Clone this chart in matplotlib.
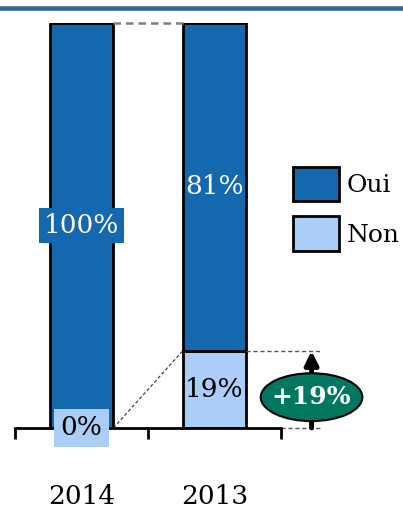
import matplotlib.pyplot as plt
from matplotlib.patches import Ellipse
from matplotlib.lines import Line2D
import numpy as np

annees = ["2014", "2013"]
oui = [100, 81]
non = [0, 19]
evolution = "+19%"

bleu_fonce = "#1468AE"
bleu_clair = "#AACEF8"
vert = "#00775F"

plt.rcParams["font.family"] = ["DejaVu Serif"]

fig = plt.figure(figsize=(4.03, 5.08), dpi=100)
ax = fig.add_axes([0.0372, 0.1575, 0.66, 0.798])

x = np.arange(len(annees))
largeur = 0.48
b_non = ax.bar(x, non, largeur, color=bleu_clair, edgecolor="black", linewidth=2, label="Non")
b_oui = ax.bar(x, oui, largeur, bottom=non, color=bleu_fonce, edgecolor="black", linewidth=2, label="Oui")

# étiquettes des segments
for i in range(len(annees)):
    y_oui = non[i] + oui[i] / 2
    if oui[i] == 100:
        ax.text(x[i], y_oui, f"{oui[i]}%", ha="center", va="center", color="white", fontsize=19,
                bbox=dict(boxstyle="square,pad=0.18", fc=bleu_fonce, ec="none"))
    else:
        ax.text(x[i], y_oui, f"{oui[i]}%", ha="center", va="center", color="white", fontsize=19)
    if non[i] == 0:
        ax.text(x[i], non[i] / 2, f"{non[i]}%", ha="center", va="center", color="black", fontsize=19,
                bbox=dict(boxstyle="square,pad=0.25", fc=bleu_clair, ec="none"), zorder=5)
    else:
        ax.text(x[i], non[i] / 2, f"{non[i]}%", ha="center", va="center", color="black", fontsize=19)

# lignes pointillées de liaison
d = largeur / 2
ax.plot([x[0] + d, x[1] - d], [non[0] + oui[0], non[1] + oui[1]], ls=(0, (3, 2)), color="grey", lw=1.8, clip_on=False)
ax.plot([x[0] + d, x[1] - d], [non[0], non[1]], ls=(0, (3, 2)), color="#333333", lw=0.8, clip_on=False)
ax.plot([x[1] + d, 1.79], [non[1], non[1]], ls=(0, (3, 2)), color="#555555", lw=1, clip_on=False)
ax.plot([1.5, 1.79], [0, 0], ls=(0, (3, 2)), color="#555555", lw=1, clip_on=False)

# flèche + ellipse
xa = 1.73
ax.annotate("", xy=(xa, non[1]), xytext=(xa, 0),
            arrowprops=dict(arrowstyle="-|>,head_width=0.4,head_length=0.8", color="black", lw=3.5,
                            shrinkA=0, shrinkB=0),
            annotation_clip=False)
ell = Ellipse((xa, 7.6), 0.764, 11.8, fc=vert, ec="black", lw=1.5, clip_on=False, zorder=6)
ax.add_patch(ell)
ax.text(xa, 7.6, evolution, ha="center", va="center", color="white", fontsize=18, fontweight="bold", zorder=7)

ax.set_xlim(-0.5, 1.5)
ax.set_ylim(0, 100)
for s in ["top", "right", "left"]:
    ax.spines[s].set_visible(False)
ax.spines["bottom"].set_linewidth(2)
ax.set_yticks([])
ax.set_xticks([-0.5, 0.5, 1.5])
ax.set_xticklabels([])
ax.tick_params(axis="x", which="major", length=8, width=2, direction="out")
ax.set_xticks(x, minor=True)
ax.set_xticklabels(annees, minor=True, fontsize=19)
ax.tick_params(axis="x", which="minor", length=0, pad=40)

ax.legend(handles=[b_oui, b_non], labels=["Oui", "Non"], loc="upper left",
          bbox_to_anchor=(293 / 403, 1 - 167 / 508), bbox_transform=fig.transFigure,
          frameon=False, fontsize=18, handlelength=1.84, handleheight=1.74,
          labelspacing=0.6, handletextpad=0.3, borderpad=0, borderaxespad=0)

# bandeau en haut
fig.add_artist(Line2D([0, 1], [1 - 8 / 508, 1 - 8 / 508], color="#3A6596", lw=3.3))

fig.savefig("out.png", dpi=100)
